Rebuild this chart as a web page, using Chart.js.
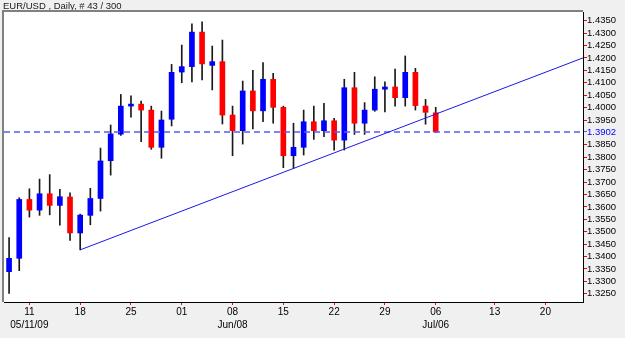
<!DOCTYPE html>
<html><head><meta charset="utf-8">
<script src="https://cdn.jsdelivr.net/npm/chart.js@4/dist/chart.umd.min.js"></script>
<style>html,body{margin:0;padding:0;background:#f0f0f0;}canvas{display:block;}</style>
</head><body>
<canvas id="c" width="625" height="338"></canvas>
<script>
// EUR/USD daily bars, index 0 = 2009-05-07 ... index 42 = 2009-07-06
const opens  = [1.3339,1.3393,1.3630,1.3587,1.3653,1.3606,1.3640,1.3495,1.3566,1.3634,1.3786,1.3893,1.4006,1.4014,1.3990,1.3840,1.3953,1.4143,1.4165,1.4304,1.4170,1.4185,1.3970,1.3907,1.4067,1.3987,1.4114,1.4001,1.3806,1.3840,1.3943,1.3907,1.3947,1.3869,1.4080,1.3937,1.3990,1.4074,1.4083,1.4040,1.4142,1.4006,1.3979];
const highs  = [1.3476,1.3637,1.3673,1.3712,1.3730,1.3671,1.3657,1.3571,1.3675,1.3837,1.3930,1.4053,1.4047,1.4026,1.4006,1.3986,1.4174,1.4252,1.4337,1.4345,1.4248,1.4272,1.4006,1.4107,1.4150,1.4181,1.4138,1.4006,1.3937,1.3990,1.4006,1.4017,1.3957,1.4114,1.4142,1.4020,1.4124,1.4104,1.4155,1.4208,1.4158,1.4033,1.4001];
const lows   = [1.3252,1.3343,1.3559,1.3566,1.3568,1.3526,1.3465,1.3427,1.3528,1.3583,1.3728,1.3888,1.3961,1.3863,1.3832,1.3796,1.3926,1.4100,1.4103,1.4111,1.4071,1.3934,1.3806,1.3853,1.3914,1.3943,1.3937,1.3758,1.3755,1.3809,1.3872,1.3883,1.3829,1.3829,1.3892,1.3892,1.3985,1.3983,1.4006,1.4006,1.3990,1.3933,1.3900];
const closes = [1.3393,1.3630,1.3587,1.3653,1.3606,1.3641,1.3495,1.3567,1.3634,1.3785,1.3894,1.4006,1.4014,1.3990,1.3840,1.3950,1.4142,1.4165,1.4304,1.4176,1.4185,1.3970,1.3907,1.4067,1.3987,1.4114,1.4001,1.3806,1.3840,1.3943,1.3907,1.3947,1.3869,1.4080,1.3937,1.3990,1.4074,1.4083,1.4040,1.4142,1.4008,1.3981,1.3902];
const lastPrice = 1.3902;
// x-axis ticks (bar index positions) and labels
const xTickPos   = [2,7,12,17,22,27,32,37,42,47.8,52.8];
const xTickDays  = ['11','18','25','01','08','15','22','29','06','13','20'];
const xTickSub   = ['05/11/09','','','','Jun/08','','','','Jul/06','',''];
// y-axis tick labels (1.3900 is hidden behind the last-price label)
const yTicks = [1.3250,1.3300,1.3350,1.3400,1.3450,1.3500,1.3550,1.3600,1.3650,1.3700,1.3750,1.3800,1.3850,1.3950,1.4000,1.4050,1.4100,1.4150,1.4200,1.4250,1.4300,1.4350];
// trendline drawn through the lows of these two bars
const trendAnchors = [7, 28];
const title = 'EUR/USD , Daily, # 43 / 300';

const X_MIN = -0.5, X_MAX = 56.5, Y_MIN = 1.3217, Y_MAX = 1.4385;
const FONT = 'Liberation Sans, Arial, sans-serif';
const UP = '#0000ff', DOWN = '#ff0000';

const wickData = lows.map((l,i)=>({x:i, y:[l, highs[i]]}));
const bodyData = opens.map((o,i)=>({x:i, y:[o, closes[i]]}));
const bodyColors = opens.map((o,i)=> closes[i] >= o ? UP : DOWN);

const a = trendAnchors[0], b = trendAnchors[1];
const slope = (lows[b]-lows[a])/(b-a);
const trendData = [{x:a, y:lows[a]}, {x:X_MAX, y:lows[a] + slope*(X_MAX-a)}];
const priceLine = [{x:X_MIN, y:lastPrice}, {x:X_MAX, y:lastPrice}];

const framePlugin = {
  id:'frame',
  beforeDraw(chart){
    const {ctx, chartArea:ca} = chart;
    ctx.save();
    ctx.fillStyle = '#f0f0f0';
    ctx.fillRect(0,0,chart.width,chart.height);
    ctx.fillStyle = '#ffffff';
    ctx.fillRect(ca.left, ca.top, ca.right-ca.left, ca.bottom-ca.top);
    ctx.fillStyle = '#202020';
    ctx.font = '9.5px ' + FONT;
    ctx.textBaseline = 'middle';
    ctx.fillText(title, 3, 6.5);
    ctx.restore();
  },
  afterDraw(chart){
    const {ctx, chartArea:ca} = chart;
    ctx.save();
    ctx.strokeStyle = '#808080';
    ctx.lineWidth = 2;
    ctx.beginPath();
    ctx.moveTo(ca.left-1, ca.bottom);
    ctx.lineTo(ca.left-1, ca.top-1);
    ctx.lineTo(ca.right, ca.top-1);
    ctx.stroke();
    ctx.restore();
  }
};

new Chart(document.getElementById('c'), {
  type:'bar',
  data:{
    datasets:[
      {type:'line', data:trendData, borderColor:'#1a1ae6', borderWidth:1, pointRadius:0, order:-2},
      {type:'line', data:priceLine, borderColor:'#5a5aff', borderWidth:1.5, borderDash:[6,4], pointRadius:0, order:-1},
      {data:bodyData, backgroundColor:bodyColors, barThickness:5, grouped:false, order:0},
      {data:wickData, backgroundColor:'#1a1a1a', barThickness:1, grouped:false, order:1}
    ]
  },
  options:{
    responsive:false, animation:false, devicePixelRatio:1,
    layout:{padding:{left:4, top:12, right:0, bottom:0}},
    plugins:{legend:{display:false}, tooltip:{enabled:false}, title:{display:false}},
    scales:{
      x:{
        type:'linear', min:X_MIN, max:X_MAX, offset:false,
        afterBuildTicks(s){ s.ticks = xTickPos.map(v=>({value:v})); },
        afterFit(s){ s.height = 36; },
        grid:{drawOnChartArea:false, drawTicks:true, tickLength:3, tickColor:'#ff0000', offset:false},
        border:{display:true, color:'#000000', width:1},
        ticks:{
          autoSkip:false, maxRotation:0, minRotation:0, padding:1,
          color:'#000000', font:{family:FONT, size:10, lineHeight:1.3},
          callback(v, i){ const s = xTickSub[i]; return s ? [xTickDays[i], s] : xTickDays[i]; }
        }
      },
      y:{
        type:'linear', position:'right', min:Y_MIN, max:Y_MAX,
        afterBuildTicks(s){
          const t = yTicks.concat([lastPrice]).sort((p,q)=>p-q);
          s.ticks = t.map(v=>({value:v}));
        },
        afterFit(s){ s.width = 42; },
        grid:{drawOnChartArea:false, drawTicks:true, tickLength:4,
          tickColor:(c)=> (c.tick && c.tick.value===lastPrice) ? '#5a5aff' : '#ff0000'},
        border:{display:true, color:'#000000', width:1},
        ticks:{
          autoSkip:false, padding:0,
          color:(c)=> (c.tick && c.tick.value===lastPrice) ? '#0000ff' : '#000000',
          font:{family:FONT, size:9.5},
          callback(v){ return v.toFixed(4); }
        }
      }
    }
  },
  plugins:[framePlugin]
});
</script>
</body></html>
